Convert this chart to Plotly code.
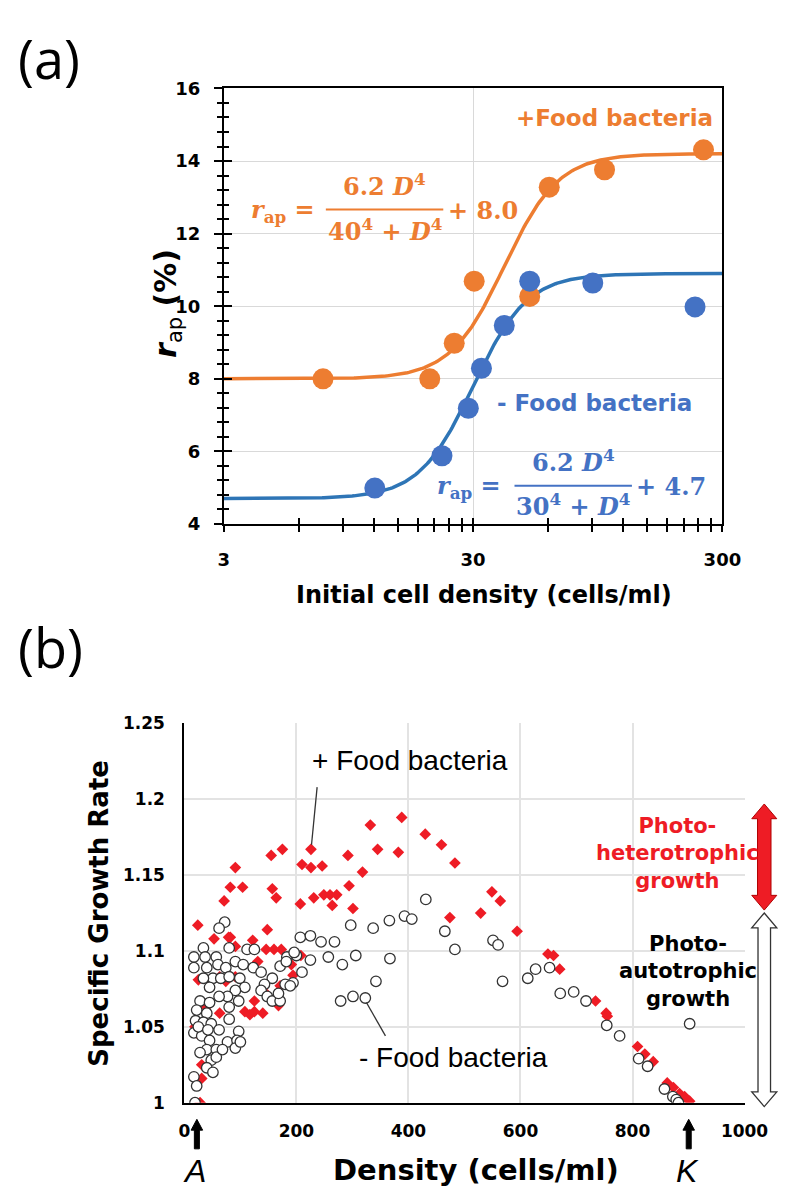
import numpy as np
import plotly.graph_objects as go

W, H = 800, 1197
def PX(x): return x / W
def PY(y): return 1 - y / H

# ---------------- Panel (a) data ----------------
a_plus_density = [7.5, 20.1, 25.2, 30.3, 50.6, 60.6, 101, 252]
a_plus_rap = [8.0, 8.0, 8.98, 10.69, 10.27, 13.28, 13.76, 14.31]
a_minus_density = [12.1, 22.5, 28.7, 32.4, 40.0, 50.6, 90.6, 233]
a_minus_rap = [4.99, 5.88, 7.19, 8.29, 9.47, 10.69, 10.64, 9.98]
# fitted curve parameters as printed on the chart: r = A*D^4/(K^4+D^4)+B
fit_A = [6.2, 6.2]
fit_K = [40, 30]
fit_B = [8.0, 4.7]
a_xticks = [3, 30, 300]
a_xminor = [6, 9, 12, 15, 18, 21, 24, 27, 60, 90, 120, 150, 180, 210, 240, 270]

# ---------------- Panel (b) data ----------------
plus_x = [332, 388, 430, 459, 483, 345, 382, 292, 318, 226, 175, 155, 210, 226, 246, 91, 71, 82, 104,
          157, 164, 207, 231, 249, 260, 272, 264, 294, 301, 549, 564, 529, 474, 594, 24, 148, 53, 82,
          122, 146, 160, 173, 649, 659, 670, 734, 753, 755, 809, 822, 837, 862, 873, 884, 893, 902,
          91, 208, 191, 131, 25, 63, 74, 91, 194, 171, 143, 125, 108, 117, 125, 140, 63, 168, 31, 31,
          22, 28, 19, 39, 79]
plus_y = [1.183, 1.188, 1.177, 1.170, 1.158, 1.167, 1.165, 1.163, 1.152, 1.167, 1.167, 1.163, 1.157,
          1.155, 1.156, 1.155, 1.133, 1.142, 1.142, 1.141, 1.135, 1.131, 1.135, 1.137, 1.137, 1.137,
          1.130, 1.143, 1.128, 1.139, 1.133, 1.125, 1.122, 1.113, 1.117, 1.114, 1.108, 1.109, 1.107,
          1.101, 1.101, 1.101, 1.098, 1.097, 1.088, 1.067, 1.059, 1.057, 1.037, 1.032, 1.027, 1.013,
          1.010, 1.006, 1.004, 1.001,
          1.103, 1.097, 1.091, 1.093, 1.081, 1.083, 1.080, 1.083, 1.084, 1.077, 1.073, 1.067, 1.060,
          1.058, 1.060, 1.059, 1.059, 1.064, 1.025, 1.016, 1.046, 1.000, 1.050, 1.063, 1.109]

minus_x = [431, 393, 406, 366, 337, 297, 465, 483, 551, 560, 207, 225, 244, 268, 225, 257, 282, 306,
           367, 342, 279, 301, 323, 568, 613, 627, 652, 671, 695, 717, 754, 777, 902, 811, 827, 857,
           872, 878, 882, 19,
           72, 62, 112, 125, 17, 34, 37, 80, 57, 91, 105, 123, 137, 157, 171, 183, 200, 210, 194, 180,
           17, 40, 60, 74, 51, 65, 80, 99, 108, 91, 97, 77, 143, 137, 148, 157, 171, 45, 28, 45, 62,
           80, 22, 40, 80, 20, 34, 48, 17, 31, 45, 62, 77, 97, 94, 91, 40, 57, 48, 57, 40, 51, 17, 22,
           28, 68, 100, 34, 25, 42, 182, 196, 168, 189]
minus_y = [1.134, 1.123, 1.121, 1.120, 1.115, 1.117, 1.113, 1.101, 1.107, 1.104, 1.109, 1.110, 1.106,
           1.106, 1.094, 1.096, 1.091, 1.097, 1.095, 1.080, 1.067, 1.070, 1.069, 1.080, 1.082, 1.088,
           1.089, 1.072, 1.073, 1.067, 1.051, 1.044, 1.052, 1.029, 1.024, 1.009, 1.004, 1.002, 1.000,
           1.000,
           1.119, 1.115, 1.101, 1.101, 1.096, 1.102, 1.096, 1.102, 1.096, 1.093, 1.091, 1.089, 1.086,
           1.082, 1.090, 1.096, 1.097, 1.086, 1.079, 1.078, 1.089, 1.089, 1.091, 1.089, 1.082, 1.082,
           1.083, 1.082, 1.076, 1.074, 1.067, 1.070, 1.078, 1.074, 1.070, 1.067, 1.067, 1.076, 1.067,
           1.066, 1.070, 1.063, 1.061, 1.059, 1.055, 1.054, 1.053, 1.052, 1.046, 1.044, 1.041, 1.048,
           1.040, 1.047, 1.041, 1.036, 1.035, 1.035, 1.028, 1.030, 1.023, 1.020, 1.017, 1.011, 1.033,
           1.035, 1.040, 1.082, 1.050, 1.048, 1.093, 1.099, 1.072, 1.077]
b_xticks = [0, 200, 400, 600, 800, 1000]
b_yticks = [1, 1.05, 1.1, 1.15, 1.2, 1.25]
b_yticklabels = ["1", "1.05", "1.1", "1.15", "1.2", "1.25"]

ORANGE = "#ED7D31"
BLUE_L = "#2E75B6"
BLUE_M = "#4472C4"
RED = "#EE1C25"
SANS_B = "DejaVu Sans"
SERIF = "DejaVu Serif"

fig = go.Figure()

# fitted curves
D = np.logspace(np.log10(3), np.log10(300), 300)
for A, K, B, col in zip(fit_A, fit_K, fit_B, [ORANGE, BLUE_L]):
    fig.add_trace(go.Scatter(x=D, y=A * D**4 / (K**4 + D**4) + B, mode="lines",
                             line=dict(color=col, width=3.5), xaxis="x", yaxis="y",
                             hoverinfo="skip"))
fig.add_trace(go.Scatter(x=a_plus_density, y=a_plus_rap, mode="markers",
                         marker=dict(color=ORANGE, size=21), xaxis="x", yaxis="y"))
fig.add_trace(go.Scatter(x=a_minus_density, y=a_minus_rap, mode="markers",
                         marker=dict(color=BLUE_M, size=21), xaxis="x", yaxis="y"))
# invisible trace for overlay (inside-tick) axes
fig.add_trace(go.Scatter(x=[None], y=[None], xaxis="x3", yaxis="y3", showlegend=False))

# panel b
fig.add_trace(go.Scatter(x=plus_x, y=plus_y, mode="markers", xaxis="x2", yaxis="y2",
                         marker=dict(symbol="diamond", color=RED, size=9, line=dict(width=0))))
fig.add_trace(go.Scatter(x=minus_x, y=minus_y, mode="markers", xaxis="x2", yaxis="y2",
                         marker=dict(symbol="circle", color="white", size=10.5,
                                     line=dict(color="#333333", width=1.3))))

tickfont = dict(family=SANS_B, size=18, color="black", weight="bold")
tickfont_b = dict(family=SANS_B, size=17, color="black", weight="bold")

fig.update_layout(
    width=W, height=H, autosize=False, showlegend=False,
    margin=dict(l=0, r=0, t=0, b=0), paper_bgcolor="white", plot_bgcolor="white",
    xaxis=dict(type="log", domain=[218 / W, 736 / W], range=[np.log10(3), np.log10(300)],
               anchor="y", tickmode="array", tickvals=a_xticks, ticktext=[str(v) for v in a_xticks],
               ticks="outside", ticklen=6, tickwidth=1.5, tickcolor="black",
               showline=True, linecolor="black", linewidth=2, mirror=True,
               showgrid=True, gridcolor="#D9D9D9", gridwidth=1.2,
               minor=dict(tickmode="array", tickvals=a_xminor, ticks="outside", ticklen=6,
                          tickwidth=1.5, tickcolor="black", showgrid=False),
               tickfont=tickfont, ticklabelstandoff=12, zeroline=False),
    yaxis=dict(domain=[1 - 514 / H, 1 - 70.7 / H], range=[4, 16], anchor="x",
               tickmode="linear", tick0=4, dtick=2, ticks="outside", ticklen=8, tickwidth=1.5,
               tickcolor="black", showline=True, linecolor="black", linewidth=2, mirror=True,
               showgrid=True, gridcolor="#D9D9D9", gridwidth=1.2,
               minor=dict(tick0=4, dtick=0.4, ticks="outside", ticklen=5, tickwidth=1.5,
                          tickcolor="black", showgrid=False),
               tickfont=tickfont, ticklabelstandoff=10, zeroline=False),
    xaxis3=dict(type="log", overlaying="x", anchor="y", range=[np.log10(3), np.log10(300)],
                tickmode="array", tickvals=a_xticks, ticks="inside", ticklen=6, tickwidth=1.5,
                tickcolor="black", showticklabels=False, showgrid=False, showline=False,
                zeroline=False,
                minor=dict(tickmode="array", tickvals=a_xminor, ticks="inside", ticklen=6,
                           tickwidth=1.5, tickcolor="black", showgrid=False)),
    yaxis3=dict(overlaying="y", anchor="x", range=[4, 16], tickmode="linear", tick0=4, dtick=2,
                ticks="inside", ticklen=8, tickwidth=1.5, tickcolor="black",
                showticklabels=False, showgrid=False, showline=False, zeroline=False,
                minor=dict(tick0=4, dtick=0.4, ticks="inside", ticklen=5, tickwidth=1.5,
                           tickcolor="black", showgrid=False)),
    xaxis2=dict(domain=[177 / W, 759 / W], range=[0, 1000], anchor="y2",
                tickmode="array", tickvals=b_xticks, ticks="", showline=True, linecolor="black",
                linewidth=2, showgrid=True, gridcolor="#E3E3E3", gridwidth=1.5, zeroline=False,
                tickfont=tickfont_b, ticklabelstandoff=12),
    yaxis2=dict(domain=[1 - 1103 / H, 1 - 717 / H], range=[1, 1.25], anchor="x2",
                tickmode="array", tickvals=b_yticks, ticktext=b_yticklabels, ticks="",
                showline=True, linecolor="black", linewidth=2, showgrid=True,
                gridcolor="#E3E3E3", gridwidth=1.5, zeroline=False,
                tickfont=tickfont_b, ticklabelstandoff=14),
)

ann = []
def txt(x, y, text, size, color="black", family=SANS_B, weight="normal", angle=0,
        xanchor="center", yanchor="middle"):
    ann.append(dict(x=PX(x), y=PY(y), xref="paper", yref="paper", text=text, showarrow=False,
                    xanchor=xanchor, yanchor=yanchor, textangle=angle,
                    font=dict(family=family, size=size, color=color, weight=weight)))

# panel labels
txt(36, 0, "(a)", 54, family="Open Sans", yanchor="top")
txt(38, 600, "(b)", 54, family="Open Sans", yanchor="top")

# panel (a) texts
txt(160, 290, "<i>r</i><sub><span style='font-weight:normal'>ap</span></sub> (%)", 30,
    weight="bold", angle=-90)
txt(488, 586, "Initial cell density (cells/ml)", 24, weight="bold")
txt(624, 101, "+Food bacteria", 23, color=ORANGE, weight="bold")
txt(603, 391, "- Food bacteria", 23, color=BLUE_M, weight="bold")

# orange formula
txt(279, 195, "<i>r</i><sub>ap</sub> =", 24, color=ORANGE, family=SERIF, weight="bold")
txt(385, 169, "6.2 <i>D</i><sup>4</sup>", 24, color=ORANGE, family=SERIF, weight="bold")
txt(385, 215, "40<sup>4</sup> + <i>D</i><sup>4</sup>", 24, color=ORANGE, family=SERIF, weight="bold")
txt(487, 195, "+ 8.0", 24, color=ORANGE, family=SERIF, weight="bold")
# blue formula
txt(473, 476, "<i>r</i><sub>ap</sub> =", 24, color=BLUE_M, family=SERIF, weight="bold")
txt(581, 450, "6.2 <i>D</i><sup>4</sup>", 24, color=BLUE_M, family=SERIF, weight="bold")
txt(581, 495, "30<sup>4</sup> + <i>D</i><sup>4</sup>", 24, color=BLUE_M, family=SERIF, weight="bold")
txt(683, 476, "+ 4.7", 24, color=BLUE_M, family=SERIF, weight="bold")

# panel (b) texts
txt(88, 910, "Specific Growth Rate", 26, weight="bold", angle=-90)
txt(480, 1172, "Density (cells/ml)", 29, weight="bold")
txt(411, 755, "+ Food bacteria", 28, family="Liberation Sans")
txt(457, 1057, "- Food bacteria", 28, family="Liberation Sans")
txt(689, 849, "Photo-<br>heterotrophic<br>growth", 21, color=RED, weight="bold")
txt(700, 970, "Photo-<br>autotrophic<br>growth", 21, weight="bold")
txt(188, 1173, "<i>A</i>", 32, family="Liberation Sans")
txt(700, 1173, "<i>K</i>", 32, family="Liberation Sans")

fig.update_layout(annotations=ann)

shapes = []
# fraction bars
for x0, x1, y, col in [(324, 446, 194, ORANGE), (520, 642, 475, BLUE_M)]:
    shapes.append(dict(type="line", xref="paper", yref="paper", x0=PX(x0), x1=PX(x1),
                       y0=PY(y), y1=PY(y), line=dict(color=col, width=2)))

# leader lines in panel (b)
shapes.append(dict(type="line", xref="x2", yref="y2", x0=237, y0=1.208, x1=227, y1=1.170,
                   line=dict(color="#333333", width=1.3)))
shapes.append(dict(type="line", xref="x2", yref="y2", x0=325, y0=1.066, x1=359, y1=1.044,
                   line=dict(color="#333333", width=1.3)))

def dbl_arrow(cx, ytop, ybot, hw, sw, hh):
    pts = [(cx, ytop), (cx + hw, ytop + hh), (cx + sw, ytop + hh), (cx + sw, ybot - hh),
           (cx + hw, ybot - hh), (cx, ybot), (cx - hw, ybot - hh), (cx - sw, ybot - hh),
           (cx - sw, ytop + hh), (cx - hw, ytop + hh)]
    return "M " + " L ".join(f"{PX(x):.5f},{PY(y):.5f}" for x, y in pts) + " Z"

def up_arrow(cx, ytip, ybot, hw, sw, hh):
    pts = [(cx, ytip), (cx + hw, ytip + hh), (cx + sw, ytip + hh), (cx + sw, ybot),
           (cx - sw, ybot), (cx - sw, ytip + hh), (cx - hw, ytip + hh)]
    return "M " + " L ".join(f"{PX(x):.5f},{PY(y):.5f}" for x, y in pts) + " Z"

shapes.append(dict(type="path", xref="paper", yref="paper", path=dbl_arrow(779.5, 799, 907, 13, 7, 15),
                   fillcolor=RED, line=dict(color="#B00000", width=1)))
shapes.append(dict(type="path", xref="paper", yref="paper", path=dbl_arrow(779.5, 910, 1107, 13, 6.5, 15),
                   fillcolor="white", line=dict(color="#333333", width=1.3)))
for cx in [190, 701]:
    shapes.append(dict(type="path", xref="paper", yref="paper", path=up_arrow(cx, 1120, 1150, 6, 2.6, 11),
                       fillcolor="black", line=dict(color="black", width=1)))

fig.update_layout(shapes=shapes)

fig.write_html("out.html")
